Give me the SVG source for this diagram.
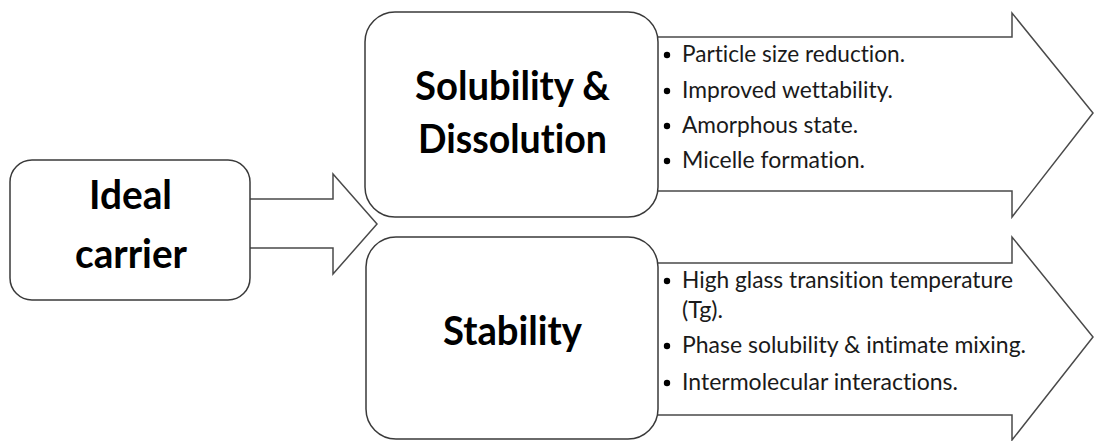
<svg xmlns="http://www.w3.org/2000/svg" width="1094" height="441" viewBox="0 0 1094 441">
<style>
.box{fill:#ffffff;stroke:#3a3a3a;stroke-width:1.5}
.arr{fill:#ffffff;stroke:#4a4a4a;stroke-width:1.5;stroke-linejoin:miter}
.title{font-family:Lato,"Liberation Sans",sans-serif;font-weight:bold;font-size:41px;fill:#000000;text-anchor:middle;font-variant-ligatures:none}
.item{font-family:Lato,"Liberation Sans",sans-serif;font-size:23px;fill:#1a1a1a;font-variant-ligatures:none}
.dot{fill:#000000}
</style>
<rect x="0" y="0" width="1094" height="441" fill="#ffffff"/>
<g id="connectors">
<polygon class="arr" points="240,199 333,199 333,174 377,224 333,274 333,248 240,248"/>
<polygon class="arr" points="640,37 1012,37 1012,13 1093,113 1012,217 1012,191 640,191"/>
<polygon class="arr" points="640,263 1012,263 1012,237 1093,337 1012,440 1012,415 640,415"/>
</g>
<g id="node-ideal-carrier">
<rect class="box" x="10" y="160" width="240" height="140" rx="22" ry="22"/>
<text class="title" x="130.5" y="209" textLength="83" lengthAdjust="spacingAndGlyphs">Ideal</text>
<text class="title" x="131" y="268" textLength="112" lengthAdjust="spacingAndGlyphs">carrier</text>
</g>
<g id="node-solubility">
<rect class="box" x="365" y="12" width="293" height="205" rx="30" ry="30"/>
<text class="title" x="512.5" y="100" textLength="195" lengthAdjust="spacingAndGlyphs">Solubility &amp;</text>
<text class="title" x="512.5" y="153" textLength="189" lengthAdjust="spacingAndGlyphs">Dissolution</text>
</g>
<g id="node-stability">
<rect class="box" x="366" y="237" width="292" height="202" rx="30" ry="30"/>
<text class="title" x="512.5" y="345" textLength="139" lengthAdjust="spacingAndGlyphs">Stability</text>
</g>
<g id="list-solubility">
<circle class="dot" cx="667" cy="55" r="3.2"/>
<text class="item" x="682" y="62" textLength="223" lengthAdjust="spacingAndGlyphs">Particle size reduction.</text>
<circle class="dot" cx="667" cy="91" r="3.2"/>
<text class="item" x="682" y="98" textLength="211" lengthAdjust="spacingAndGlyphs">Improved wettability.</text>
<circle class="dot" cx="667" cy="126" r="3.2"/>
<text class="item" x="682" y="133" textLength="176" lengthAdjust="spacingAndGlyphs">Amorphous state.</text>
<circle class="dot" cx="667" cy="161" r="3.2"/>
<text class="item" x="682" y="168" textLength="183" lengthAdjust="spacingAndGlyphs">Micelle formation.</text>
</g>
<g id="list-stability">
<circle class="dot" cx="667" cy="281" r="3.2"/>
<text class="item" x="682" y="288" textLength="331" lengthAdjust="spacingAndGlyphs">High glass transition temperature</text>
<text class="item" x="682" y="318" textLength="41" lengthAdjust="spacingAndGlyphs">(Tg).</text>
<circle class="dot" cx="667" cy="346" r="3.2"/>
<text class="item" x="682" y="353" textLength="344" lengthAdjust="spacingAndGlyphs">Phase solubility &amp; intimate mixing.</text>
<circle class="dot" cx="667" cy="383" r="3.2"/>
<text class="item" x="682" y="390" textLength="276" lengthAdjust="spacingAndGlyphs">Intermolecular interactions.</text>
</g>
</svg>
